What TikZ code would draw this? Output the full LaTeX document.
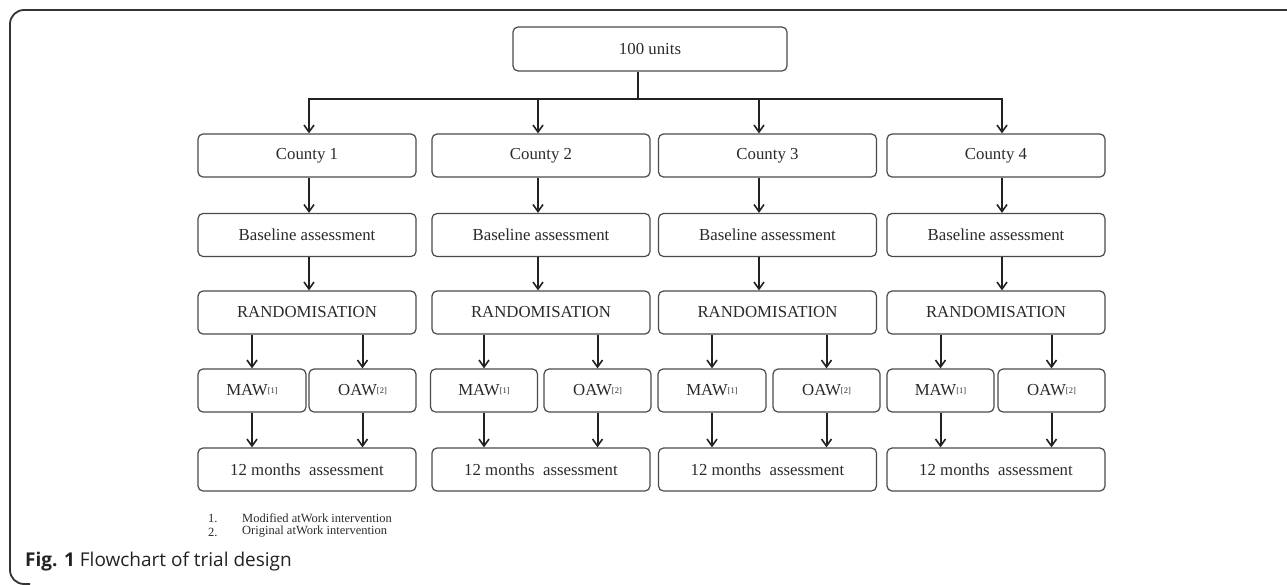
\documentclass[tikz,border=0pt]{standalone}
\usepackage{fontspec}
\setmainfont{Liberation Serif}
\newfontfamily\capfont{Open Sans}
\usetikzlibrary{arrows.meta,calc}
\definecolor{boxc}{HTML}{4A4A4A}
\definecolor{arrc}{HTML}{222222}
\definecolor{txtc}{HTML}{2A2A2A}
\definecolor{framec}{HTML}{333333}
\newcommand{\fnref}[1]{{\fontsize{8.5}{8.5}\selectfont\raisebox{2.5pt}{[#1]}}}
\begin{document}
\begin{tikzpicture}[x=1pt,y=-1pt,
  box/.style={draw=boxc, line width=1.2pt, rounded corners=5pt, minimum height=43pt,
    inner sep=0pt, font=\fontsize{16.8}{18}\selectfont, text=txtc},
  wbox/.style={box, minimum width=218pt},
  arr/.style={draw=arrc, line width=2pt, -{Straight Barb[length=7pt,width=10pt,line width=1.6pt]}},
  ln/.style={draw=arrc, line width=2pt},
  note/.style={anchor=west, inner sep=0pt, font=\fontsize{12.5}{13}\selectfont, text=txtc}]
\useasboundingbox (0,0) rectangle (1287,584);
% frame
\draw[draw=framec, line width=1.8pt, rounded corners=14pt] (1300,10) -- (10,10) -- (10,584) -- (30,584);
% top node
\node[box, minimum width=274pt, minimum height=44pt] (u) at (650,49) {100 units};
\coordinate (hub) at (638,99);
% columns
\foreach \i/\cx/\mx/\ox/\mw/\ow in {1/307/252/362.5/108/107, 2/541/484/597.5/107/107, 3/767.5/712/826.5/108/107, 4/996/940.5/1051.5/107/107}{
  \node[wbox] (c\i) at (\cx,155.5) {County \i};
  \node[wbox] (b\i) at (\cx,235) {Baseline assessment};
  \node[wbox] (r\i) at (\cx,312.5) {RANDOMISATION};
  \node[box, minimum width=\mw pt] (m\i) at (\mx,390.5) {MAW\fnref{1}};
  \node[box, minimum width=\ow pt] (o\i) at (\ox,390.5) {OAW\fnref{2}};
  \node[wbox] (t\i) at (\cx,469.5) {12 months\ \ assessment};
}
% connectors from top
\draw[ln] ([xshift=-12pt]u.south) -- (hub);
\draw[arr] (hub) -| ([xshift=2pt]c1.north);
\draw[arr] (hub) -| ([xshift=-3pt]c2.north);
\draw[arr] (hub) -| ([xshift=-8.5pt]c3.north);
\draw[arr] (hub) -| ([xshift=6pt]c4.north);
% column connectors
\foreach \i/\dx in {1/2, 2/-3, 3/-8.5, 4/6}{
  \draw[arr] ([xshift=\dx pt]c\i.south) -- ([xshift=\dx pt]b\i.north);
  \draw[arr] ([xshift=\dx pt]b\i.south) -- ([xshift=\dx pt]r\i.north);
  \draw[arr] (m\i.north |- r\i.south) -- (m\i.north);
  \draw[arr] (o\i.north |- r\i.south) -- (o\i.north);
  \draw[arr] (m\i.south) -- (m\i.south |- t\i.north);
  \draw[arr] (o\i.south) -- (o\i.south |- t\i.north);
}
% footnotes
\node[note] (n1) at (208,518) {1.};
\node[note] (n1t) at (242,518) {Modified atWork intervention};
\node[note] (n2) at (208,532) {2.};
\node[note] (n2t) at (242,532) {Original atWork intervention};
% caption
\node[anchor=west, inner sep=0pt, font=\capfont\fontsize{19}{20}\selectfont, text=arrc] (cap) at (25,562) {\textbf{Fig. 1} Flowchart of trial design};
\end{tikzpicture}
\end{document}
